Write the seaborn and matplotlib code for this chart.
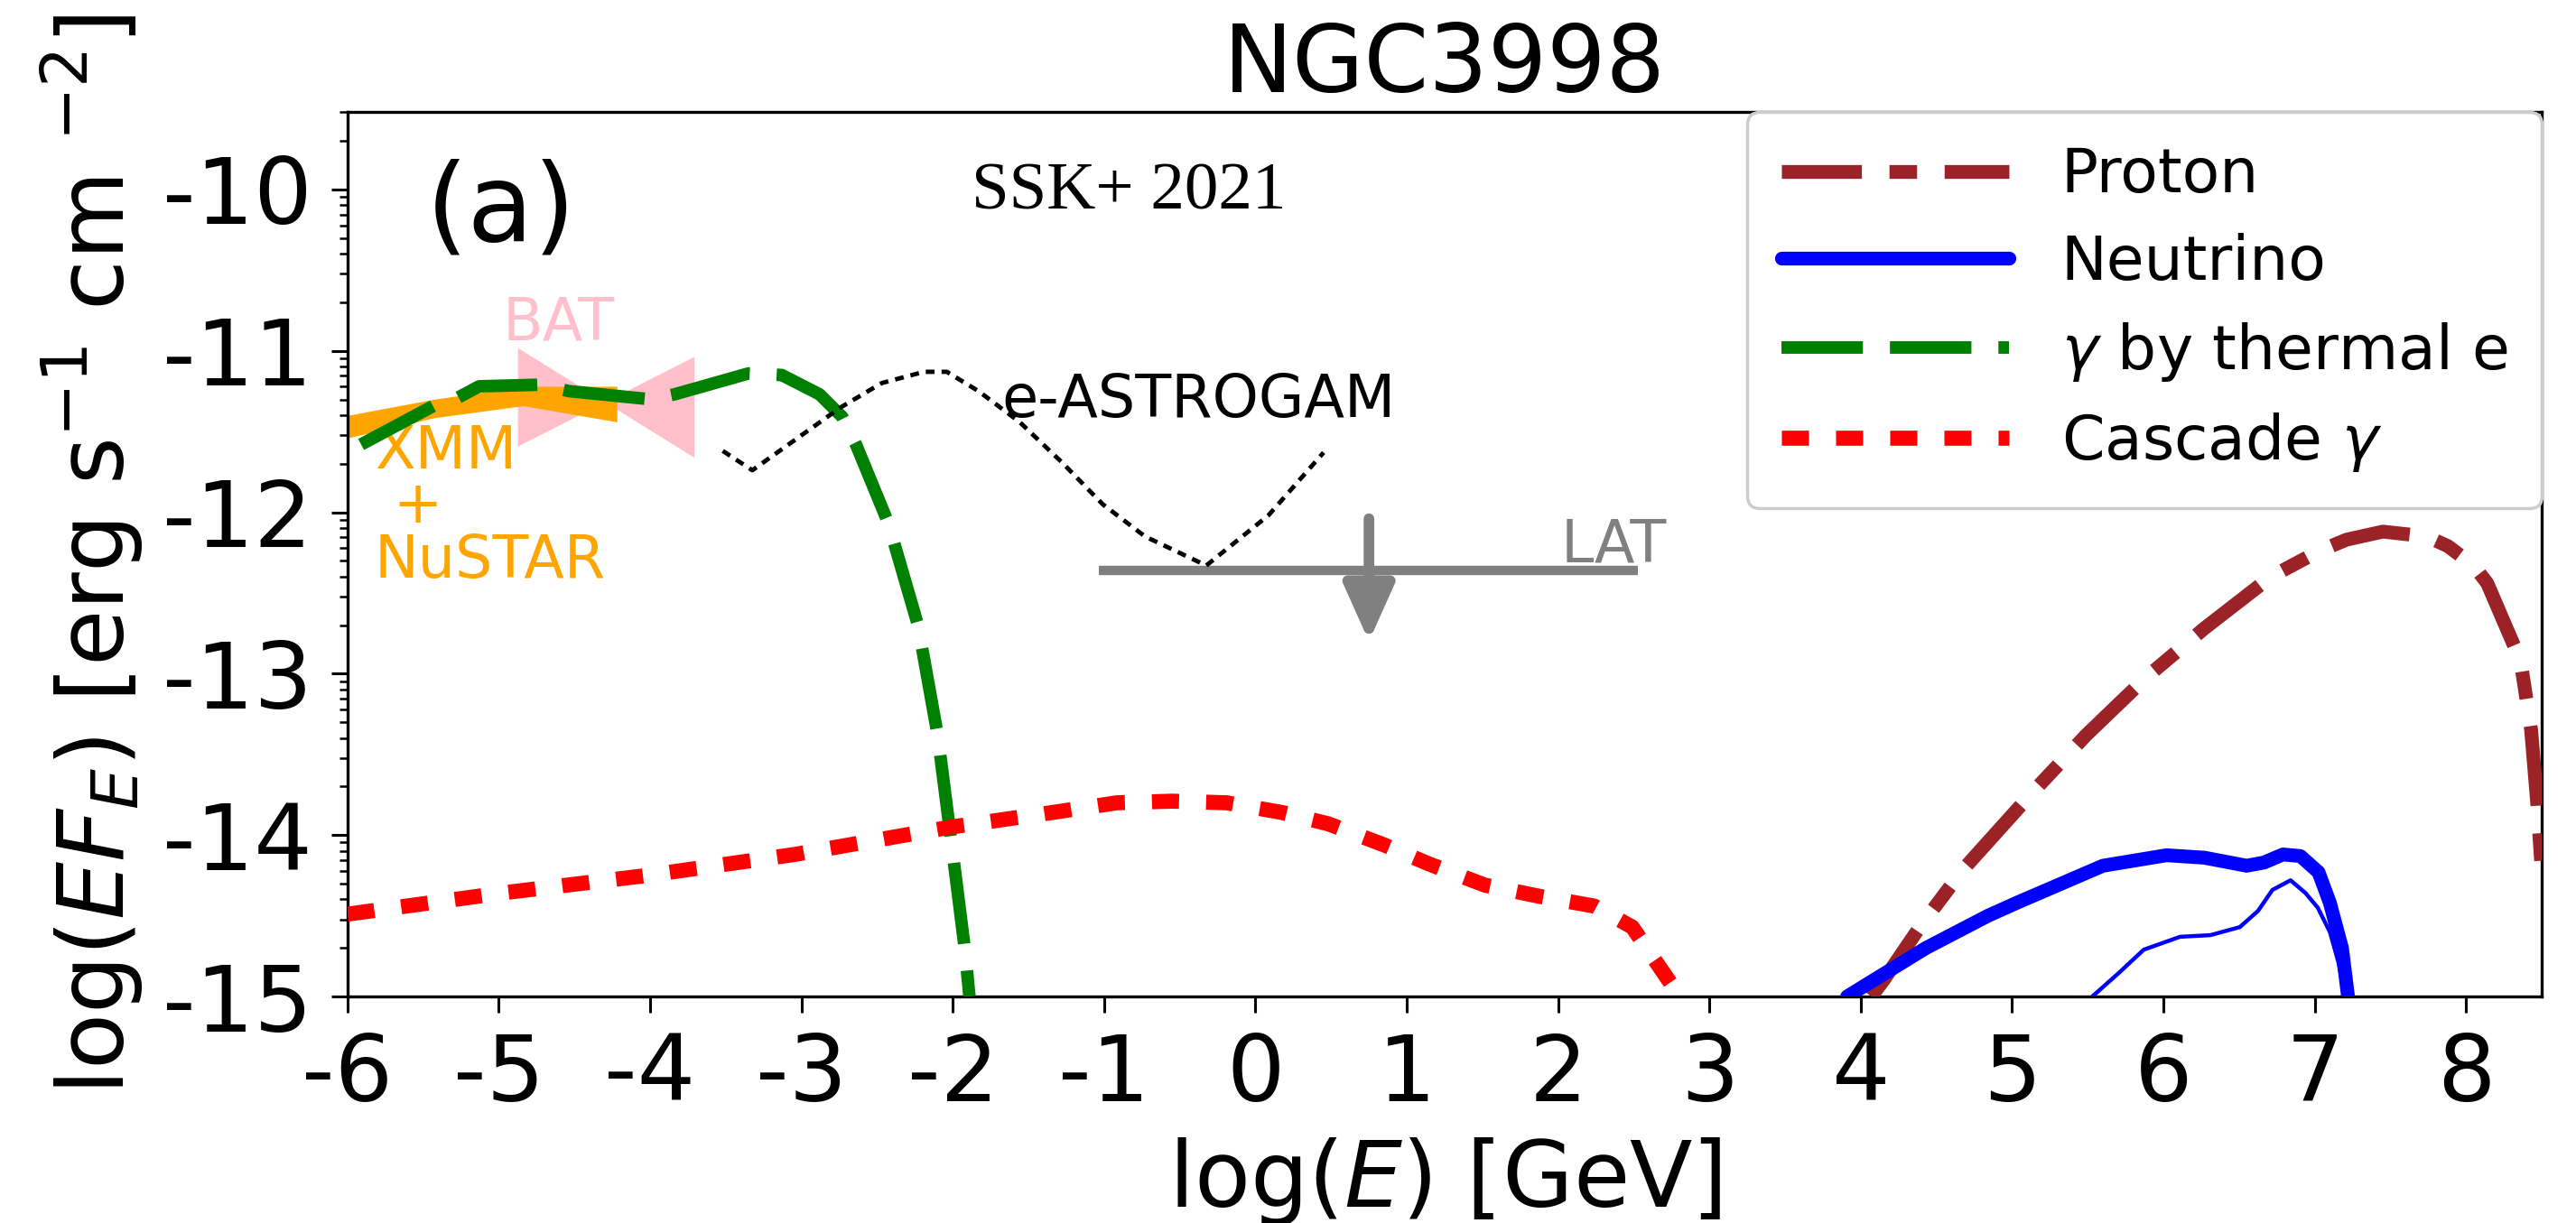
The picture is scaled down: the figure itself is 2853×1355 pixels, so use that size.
import numpy as np
import pandas as pd
import matplotlib
matplotlib.use("Agg")
import matplotlib.pyplot as plt
import seaborn as sns
from matplotlib.ticker import FixedLocator

# ---------------- data: log10(E / GeV) vs log10(E F_E / erg s^-1 cm^-2) ----------------
proton_x = [4.07, 4.15, 4.39, 4.67, 5.15, 5.49, 5.89, 6.27, 6.71, 7.03, 7.21, 7.45,
            7.74, 7.88, 8.05, 8.14, 8.36, 8.43, 8.47, 8.50]
proton_y = [-15.0, -14.90, -14.57, -14.22, -13.72, -13.38, -13.02, -12.72, -12.40, -12.24,
            -12.17, -12.12, -12.15, -12.21, -12.33, -12.44, -12.92, -13.35, -13.80, -14.22]

nu_x = [3.91, 4.43, 4.84, 5.03, 5.60, 6.02, 6.27, 6.55, 6.665, 6.79, 6.905, 7.025, 7.10,
        7.18, 7.22]
nu_y = [-15.0, -14.70, -14.50, -14.42, -14.19, -14.125, -14.14, -14.19, -14.17, -14.12,
        -14.13, -14.23, -14.42, -14.70, -15.0]

nu_thin_x = [5.53, 5.71, 5.87, 6.11, 6.31, 6.505, 6.625, 6.72, 6.84, 6.94, 7.02, 7.10,
             7.16, 7.20]
nu_thin_y = [-15.0, -14.85, -14.71, -14.63, -14.62, -14.57, -14.47, -14.34, -14.28, -14.36,
             -14.45, -14.60, -14.80, -15.0]

thermal_x = [-5.91, -5.43, -5.27, -5.13, -4.73, -4.535, -4.0, -3.84, -3.35, -3.13, -2.88,
             -2.73, -2.64, -2.425, -2.23, -2.10, -2.01, -1.92, -1.89]
thermal_y = [-11.58, -11.34, -11.29, -11.22, -11.21, -11.25, -11.30, -11.27, -11.14, -11.15,
             -11.27, -11.41, -11.58, -12.07, -12.70, -13.38, -14.04, -14.71, -15.0]

cascade_x = [-6.0, -4.99, -4.02, -3.045, -2.01, -1.34, -0.917, -0.55, -0.19, 0.175, 0.48,
             0.847, 1.15, 1.516, 1.88, 2.24, 2.49, 2.76, 2.80]
cascade_y = [-14.49, -14.36, -14.25, -14.12, -13.95, -13.86, -13.80, -13.79, -13.80, -13.86,
             -13.93, -14.06, -14.18, -14.31, -14.38, -14.44, -14.57, -14.94, -15.0]

astrogam_x = [-3.52, -3.325, -3.01, -2.74, -2.47, -2.19, -2.04, -1.83, -1.56, -1.28, -1.01,
              -0.73, -0.325, 0.085, 0.45]
astrogam_y = [-11.62, -11.74, -11.53, -11.35, -11.20, -11.13, -11.13, -11.25, -11.44, -11.69,
              -11.95, -12.15, -12.33, -12.02, -11.63]

# XMM + NuSTAR spectrum band
xmm_x = [-6.0, -5.43, -4.84, -4.22]
xmm_hi = [-11.40, -11.30, -11.22, -11.22]
xmm_lo = [-11.54, -11.415, -11.34, -11.44]

# Swift-BAT bow tie
bat_x = [-4.876, -4.30, -3.71]
bat_hi = [-10.98, -11.316, -11.035]
bat_lo = [-11.59, -11.316, -11.66]

# Fermi-LAT upper limit
lat_xmin, lat_xmax, lat_y = -1.035, 2.53, -12.36
lat_arrow_x, lat_arrow_top, lat_arrow_tip = 0.75, -12.04, -12.80

legend_labels = ["Proton", "Neutrino", r"$\gamma$ by thermal e", r"Cascade $\gamma$"]
x_ticks = list(range(-6, 9))
y_ticks = [-10, -11, -12, -13, -14, -15]

# ---------------- style ----------------
sns.set_style("ticks", rc={"axes.edgecolor": "black", "xtick.color": "black",
                           "ytick.color": "black", "text.color": "black",
                           "axes.labelcolor": "black"})
plt.rcParams["font.family"] = ["DejaVu Sans"]
plt.rcParams["mathtext.fontset"] = "dejavusans"
plt.rcParams["axes.unicode_minus"] = False

fig = plt.figure(figsize=(28.53, 13.55), dpi=100)
ax = fig.add_axes([0.1349, 0.1852, 0.9867 - 0.1349, 0.9085 - 0.1852])

LW = 11
# observational data
ax.fill_between(bat_x, bat_lo, bat_hi, color="pink", lw=0, zorder=1)
ax.fill_between(xmm_x, xmm_lo, xmm_hi, color="orange", lw=0, zorder=2)

sns.lineplot(x=proton_x, y=proton_y, ax=ax, color="#9b2226", lw=LW, sort=False,
             estimator=None, errorbar=None, linestyle=(0, (5.8, 2, 2, 2)),
             label=legend_labels[0], zorder=3)
sns.lineplot(x=nu_x, y=nu_y, ax=ax, color="blue", lw=LW, sort=False, estimator=None,
             errorbar=None, label=legend_labels[1], zorder=4)
sns.lineplot(x=nu_thin_x, y=nu_thin_y, ax=ax, color="blue", lw=3.2, sort=False,
             estimator=None, errorbar=None, zorder=4)
sns.lineplot(x=thermal_x, y=thermal_y, ax=ax, color="green", lw=10, sort=False,
             estimator=None, errorbar=None, linestyle=(0, (6.5, 2.15)),
             label=legend_labels[2], zorder=5)
sns.lineplot(x=cascade_x, y=cascade_y, ax=ax, color="red", lw=12, sort=False,
             estimator=None, errorbar=None, linestyle=(0, (1.8, 1.8)),
             label=legend_labels[3], zorder=5)
sns.lineplot(x=astrogam_x, y=astrogam_y, ax=ax, color="black", lw=3.5, sort=False,
             estimator=None, errorbar=None, linestyle=(0, (2, 1.6)), zorder=6)

# LAT upper limit
ax.hlines(lat_y, lat_xmin, lat_xmax, color="gray", lw=7.5, zorder=3)
ax.annotate("", xy=(lat_arrow_x, lat_arrow_tip), xytext=(lat_arrow_x, lat_arrow_top),
            arrowprops=dict(arrowstyle="-|>,head_length=1.9,head_width=0.85",
                            mutation_scale=20, color="gray", lw=8.5,
                            shrinkA=0, shrinkB=0), zorder=3)

# annotations
ANN = 47
ax.text(-5.48, -10.316, "(a)", fontsize=86, ha="left", va="baseline")
ax.text(-1.875, -10.12, "SSK+ 2021", fontsize=54, family="Liberation Serif",
        ha="left", va="baseline")
ax.text(-4.976, -10.93, "BAT", fontsize=ANN, color="pink", ha="left", va="baseline")
ax.text(-5.82, -12.405, "XMM\n +\nNuSTAR", fontsize=ANN, color="orange", ha="left",
        va="baseline", linespacing=0.93)
ax.text(-1.68, -11.41, "e-ASTROGAM", fontsize=ANN, color="black", ha="left", va="baseline",
        zorder=7)
ax.text(2.02, -12.31, "LAT", fontsize=ANN, color="gray", ha="left", va="baseline")

# axes
ax.set_xlim(-6, 8.5)
ax.set_ylim(-15, -9.52)
ax.xaxis.set_major_locator(FixedLocator(x_ticks))
ax.set_xticklabels([str(t) for t in x_ticks])
ax.yaxis.set_major_locator(FixedLocator(y_ticks))
ax.set_yticklabels([str(t) for t in y_ticks])
minor = [n + np.log10(k) for n in range(-16, -8) for k in range(2, 10)]
ax.yaxis.set_minor_locator(FixedLocator([m for m in minor if -15 < m < -9.52]))
ax.tick_params(axis="both", which="major", labelsize=73, length=13, width=2.2,
               direction="out", pad=15)
ax.tick_params(axis="y", which="minor", length=6.5, width=1.8, direction="out")
for s in ax.spines.values():
    s.set_linewidth(2.4)
    s.set_color("black")

ax.set_xlabel(r"log($E$) [GeV]", fontsize=73, labelpad=12)
ax.set_ylabel(r"log($EF_E$) [erg s$^{-1}$ cm $^{-2}$]", fontsize=73, labelpad=14)
ax.set_title("NGC3998", fontsize=74, pad=3)

leg = ax.legend(loc="upper right", borderaxespad=0, fontsize=49, handlelength=3.7,
                handletextpad=0.85, borderpad=0.55, labelspacing=0.45, frameon=True,
                fancybox=True, edgecolor="0.8", framealpha=1.0)
leg.get_frame().set_linewidth(2.5)

fig.savefig("out.png", dpi=100)
